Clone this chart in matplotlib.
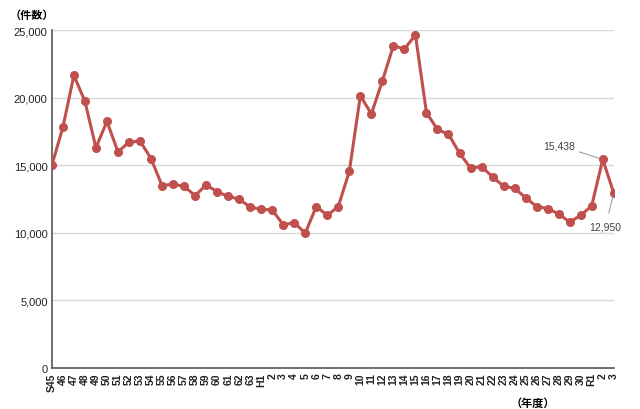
import matplotlib
matplotlib.use("Agg")
import matplotlib.pyplot as plt

# fiscal years: Showa 45-63, Heisei 1-30, Reiwa 1-3
years = (["S45"] + [str(y) for y in range(46, 64)]
         + ["H1"] + [str(y) for y in range(2, 31)]
         + ["R1", "2", "3"])
cases = [15000, 17800, 21650, 19750, 16300, 18250, 16000, 16700, 16800, 15500,
         13500, 13600, 13450, 12750, 13550, 13050, 12700, 12500, 11900, 11750,
         11700, 10600, 10750, 9980, 11950, 11300, 11950, 14550, 20150, 18800,
         21250, 23850, 23600, 24650, 18900, 17650, 17300, 15900, 14800, 14900,
         14150, 13450, 13300, 12600, 11950, 11800, 11400, 10800, 11300, 12000,
         15438, 12950]
yticks = [0, 5000, 10000, 15000, 20000, 25000]

jp = ["Noto Sans CJK JP", "DejaVu Sans"]
line_color = "#C0504D"

fig = plt.figure(figsize=(6.4, 4.1), dpi=100)
ax = fig.add_axes([0.081, 0.1, 0.878, 0.824])

x = list(range(len(years)))
ax.plot(x, cases, color=line_color, lw=2.2, marker="o", ms=5.5, zorder=3)

ax.set_xlim(0, len(years) - 1)
ax.set_ylim(0, 25000)
ax.set_yticks(yticks)
ax.set_yticklabels([f"{v:,}" for v in yticks], fontsize=8, family="Liberation Sans")
ax.set_xticks(x)
ax.set_xticklabels(years, rotation=90, fontsize=7.5, fontweight="bold",
                   family="Liberation Sans")
ax.tick_params(axis="both", length=0, pad=3, colors="#222222")
ax.grid(axis="y", color="#d9d9d9", lw=1)
ax.set_axisbelow(True)
for side in ["top", "right"]:
    ax.spines[side].set_visible(False)
ax.spines["left"].set_color("#555555")
ax.spines["bottom"].set_color("#555555")
ax.spines["left"].set_linewidth(1.2)
ax.spines["bottom"].set_linewidth(1.2)

# data labels for the last two years
ax.annotate(f"{cases[-2]:,}", xy=(x[-2], cases[-2]), xytext=(-20, 10),
            textcoords="offset points", ha="right", va="center", fontsize=7.5,
            color="#404040", family="Liberation Sans",
            arrowprops=dict(arrowstyle="-", color="#a0a0a0", lw=0.8,
                            shrinkA=1, shrinkB=3))
ax.annotate(f"{cases[-1]:,}", xy=(x[-1], cases[-1]), xytext=(-6, -24),
            textcoords="offset points", ha="center", va="center", fontsize=7.5,
            color="#404040", family="Liberation Sans",
            arrowprops=dict(arrowstyle="-", color="#a0a0a0", lw=0.8,
                            shrinkA=4, shrinkB=3))

fig.text(0.015, 0.962, "（件数）", fontsize=8, fontweight="bold", family=jp,
         va="center", ha="left")
fig.text(0.832, 0.017, "（年度）", fontsize=8, fontweight="bold", family=jp,
         va="center", ha="center")

fig.savefig("out.png", dpi=100)
